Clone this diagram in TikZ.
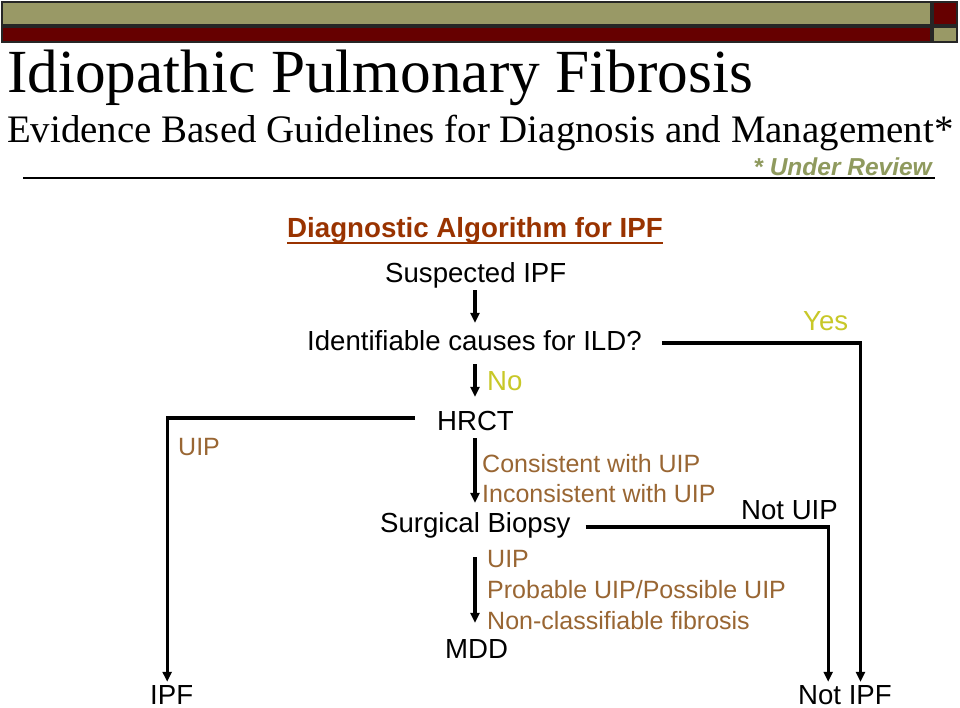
\documentclass[tikz,border=0pt]{standalone}
\usepackage{fontspec}
\setmainfont{Liberation Serif}
\setsansfont{Liberation Sans}
\usetikzlibrary{arrows.meta}
\definecolor{olivebar}{HTML}{999966}
\definecolor{darkred}{HTML}{660000}
\definecolor{headc}{HTML}{993300}
\definecolor{brownc}{HTML}{996633}
\definecolor{yesno}{HTML}{C8C828}
\definecolor{revc}{HTML}{8F9A5E}
\begin{document}
\begin{tikzpicture}[x=1pt,y=-1pt,
  bar/.style={draw=black!85, line width=1.2pt},
  main/.style={inner sep=0pt, anchor=base west, font=\sffamily\fontsize{27.6}{30}\selectfont, text height=20pt, text depth=6pt},
  lab/.style={inner sep=0pt, anchor=base west, font=\sffamily\fontsize{25}{28}\selectfont, text=brownc},
  yn/.style={inner sep=0pt, anchor=base west, font=\sffamily\fontsize{27.6}{30}\selectfont, text=yesno},
  conn/.style={line width=3.2pt},
  arr/.style={conn, -{Triangle[length=10pt,width=9pt]}}]
\useasboundingbox (0,0) rectangle (960,708);
\fill[white] (0,0) rectangle (960,708);
% header bars
\filldraw[bar, fill=olivebar] (2,2) rectangle (931,25);
\filldraw[bar, fill=darkred] (2,27) rectangle (931,42);
\filldraw[bar, fill=darkred] (933,2) rectangle (957,25);
\filldraw[bar, fill=olivebar] (933,27) rectangle (957,42);
% titles
\node[inner sep=0pt, anchor=base west, font=\rmfamily\fontsize{61.3}{64}\selectfont] (title) at (7,93) {Idiopathic Pulmonary Fibrosis};
\node[inner sep=0pt, anchor=base west, font=\rmfamily\fontsize{38.9}{40}\selectfont] (subtitle) at (7,143) {Evidence Based Guidelines for Diagnosis and Management*};
\draw[line width=1.5pt] (23,178) -- (935,178);
\node[inner sep=0pt, anchor=base east, font=\sffamily\bfseries\itshape\fontsize{24.5}{26}\selectfont, text=revc] (review) at (932,176) {* Under Review};
\node[inner sep=0pt, anchor=base west, font=\sffamily\bfseries\fontsize{27.7}{30}\selectfont, text=headc] (diag) at (287,238) {Diagnostic Algorithm for IPF};
\draw[headc, line width=2pt] ([yshift=-5pt]diag.base west) -- ([yshift=-5pt]diag.base east);
% flow nodes
\node[main] (susp) at (385,283) {Suspected IPF};
\node[main] (ident) at (307,350) {Identifiable causes for ILD?};
\node[yn] (no) at (487,390) {No};
\node[main] (hrct) at (437,430) {HRCT};
\node[lab] (cons) at (482,472) {Consistent with UIP};
\node[lab] (incons) at (482,502) {Inconsistent with UIP};
\node[main] (surg) at (380,532) {Surgical Biopsy};
\node[lab] (uip2) at (487,567) {UIP};
\node[lab] (prob) at (487,598) {Probable UIP/Possible UIP};
\node[lab] (noncl) at (487,629) {Non-classifiable fibrosis};
\node[main] (mdd) at (445,658) {MDD};
\node[main, text depth=0pt] (ipf) at (150,704) {IPF};
\node[main, text depth=0pt] (notipf) at (798,704) {Not IPF};
\node[lab] (uip1) at (178,455) {UIP};
\node[yn] (yes) at (803,330) {Yes};
\node[main] (notuip) at (741,519) {Not UIP};
% connectors
\coordinate (col) at (475,0);
\draw[arr, shorten <=1pt, shorten >=7pt] (susp.south -| col) -- (ident.north -| col);
\draw[arr, shorten <=8pt, shorten >=13pt] (ident.south -| col) -- (hrct.north -| col);
\draw[arr, shorten <=2pt, shorten >=9pt] (hrct.south -| col) -- (surg.north -| col);
\draw[arr, shorten <=19pt, shorten >=15pt] (surg.south -| col) -- (mdd.north -| col);
\draw[arr, shorten >=2pt] ([xshift=20pt]ident.east) -| ([xshift=15.5pt]notipf.north);
\draw[arr, shorten >=2pt] ([xshift=15pt,yshift=-2pt]surg.east) -| ([xshift=-16.8pt]notipf.north);
\draw[arr, shorten >=2pt] ([xshift=-22pt,yshift=5pt]hrct.west) -| ([xshift=-4.5pt]ipf.north);
\end{tikzpicture}
\end{document}
